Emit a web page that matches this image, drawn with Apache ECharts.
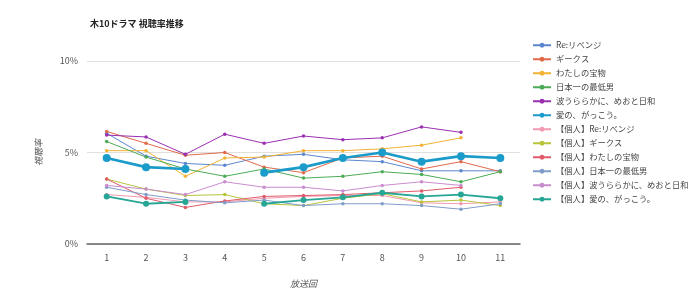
<!DOCTYPE html>
<html><head><meta charset="utf-8">
<script src="https://cdn.jsdelivr.net/npm/echarts@6/dist/echarts.min.js"></script>
<style>html,body{margin:0;padding:0;background:#fff}#c{width:700px;height:304px}</style>
</head><body><div id="c"></div>
<script>
var categories = ['1','2','3','4','5','6','7','8','9','10','11'];
var seriesNames = ['Re:リベンジ','ギークス','わたしの宝物','日本一の最低男','波うららかに、めおと日和','愛の、がっこう。',
  '【個人】Re:リベンジ','【個人】ギークス','【個人】わたしの宝物','【個人】日本一の最低男','【個人】波うららかに、めおと日和','【個人】愛の、がっこう。'];
var reRevenge   = [6.05, 4.8, 4.4, 4.3, 4.8, 4.9, 4.6, 4.5, 4.0, 4.0, 4.0];
var geeks       = [6.15, 5.5, 4.85, 5.0, 4.2, 3.9, 4.7, 4.8, 4.1, 4.5, 3.95];
var watashi     = [5.1, 5.1, 3.7, 4.7, 4.75, 5.1, 5.1, 5.2, 5.4, 5.8, null];
var nihonichi   = [5.6, 4.75, 4.1, 3.7, 4.1, 3.6, 3.7, 3.95, 3.8, 3.4, 3.95];
var namiurara   = [5.95, 5.85, 4.9, 6.0, 5.5, 5.9, 5.7, 5.8, 6.4, 6.1, null];
var ainoGakkou  = [4.7, 4.2, 4.1, null, 3.9, 4.2, 4.7, 5.0, 4.5, 4.8, 4.7];
var pReRevenge  = [2.7, 2.55, 2.3, 2.3, 2.5, 2.6, 2.65, 2.65, 2.25, 2.2, 2.3];
var pGeeks      = [3.55, 3.0, 2.65, 2.7, 2.2, 2.1, 2.5, 2.75, 2.3, 2.4, 2.1];
var pWatashi    = [3.55, 2.5, 2.0, 2.35, 2.6, 2.65, 2.7, 2.8, 2.9, 3.1, null];
var pNihonichi  = [3.1, 2.7, 2.4, 2.25, 2.4, 2.1, 2.2, 2.2, 2.1, 1.9, 2.2];
var pNamiurara  = [3.2, 3.0, 2.7, 3.4, 3.1, 3.1, 2.9, 3.2, 3.4, 3.2, null];
var pAinoGakkou = [2.6, 2.2, 2.3, null, 2.2, 2.4, 2.55, 2.8, 2.6, 2.7, 2.5];
var yTicks = [0, 5, 10];

var dataList = [reRevenge, geeks, watashi, nihonichi, namiurara, ainoGakkou,
  pReRevenge, pGeeks, pWatashi, pNihonichi, pNamiurara, pAinoGakkou];
var colors = ['#5b86cf','#e0694a','#f2b233','#4cab55','#9a2fb0','#1b9bc9',
  '#f29ab0','#b8c43a','#e05a6a','#7f9cc9','#c98ccf','#27a696'];

var series = dataList.map(function(d, i){
  var bold = (i === 5);
  var mid = (i === 11);
  return {
    name: seriesNames[i], type: 'line', data: d,
    symbol: 'circle',
    symbolSize: bold ? 8 : (mid ? 6 : 3.5),
    connectNulls: false,
    lineStyle: {width: bold ? 2.6 : (mid ? 1.8 : 1), color: colors[i]},
    itemStyle: {color: colors[i]},
    emphasis: {disabled: true},
    z: bold ? 5 : 2
  };
});

var chart = echarts.init(document.getElementById('c'), null, {renderer:'canvas'});
chart.setOption({
  animation: false,
  color: colors,
  textStyle: {fontFamily: '"Noto Sans CJK JP", "Noto Sans", sans-serif'},
  title: {text: '木10ドラマ 視聴率推移', left: 85, top: 14,
    textStyle: {fontSize: 9, fontWeight: 'bold', color: '#222'}},
  legend: {orient: 'vertical', left: 527, top: 35, itemWidth: 18, itemHeight: 6, itemGap: 3.5,
    textStyle: {fontSize: 8.3, color: '#444', lineHeight: 10.5}, data: seriesNames},
  grid: {left: 87, right: 180, top: 61, bottom: 60},
  xAxis: {type: 'category', data: categories, boundaryGap: true,
    name: '放送回', nameLocation: 'middle', nameGap: 35,
    nameTextStyle: {fontSize: 9, color: '#555', fontStyle: 'italic'},
    axisLine: {lineStyle: {color: '#666', width: 1.5}},
    axisTick: {show: false},
    axisLabel: {fontSize: 9, color: '#555', margin: 9}},
  yAxis: {type: 'value', min: 0, max: 10, interval: 5,
    name: '視聴率', nameLocation: 'middle', nameGap: 44, nameRotate: 90,
    nameTextStyle: {fontSize: 9, color: '#555', fontStyle: 'italic'},
    axisLine: {show: false}, axisTick: {show: false},
    splitLine: {lineStyle: {color: '#e0e0e0'}},
    axisLabel: {fontSize: 9, color: '#555', margin: 9,
      formatter: function(v){ return yTicks.indexOf(v) >= 0 ? v + '%' : ''; }}},
  series: series
});
</script></body></html>
